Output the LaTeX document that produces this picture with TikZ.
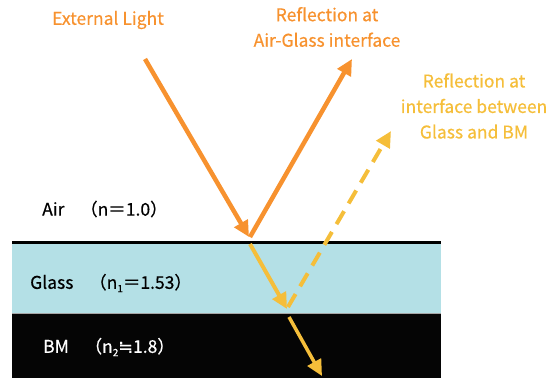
\documentclass[tikz,border=0pt]{standalone}
\usepackage{fontspec}
\setmainfont{Noto Sans CJK JP}[FakeBold=0.5]
\newfontfamily\symfont{DejaVu Sans}[FakeBold=0.5]
\usetikzlibrary{arrows.meta}
\definecolor{lorange}{HTML}{F7922F}
\definecolor{lyellow}{HTML}{F5BE3A}
\definecolor{glassc}{HTML}{B4E0E6}
\tikzset{
  lbl/.style={inner sep=0pt, font=\fontsize{17.5}{25.5}\selectfont},
  ray/.style={line width=4.5pt, -{Triangle[length=16pt,width=15pt]}},
  dray/.style={ray, dash pattern=on 15pt off 9pt},
}
\newcommand{\subn}[1]{\raisebox{-0.35ex}{\fontsize{10}{10}\selectfont #1}}
\begin{document}
\begin{tikzpicture}[x=1pt,y=-1pt]
\useasboundingbox (0,0) rectangle (558,378);
% layers
\fill[glassc] (12,243) rectangle (441,313);
\fill[black!98] (12,313) rectangle (441,378);
\draw[gray!70, line width=0.8pt] (12,313) -- (441,313);
\draw[black, line width=3pt] (12,242) -- (441,242);
% coordinates
\coordinate (src) at (145,59);
\coordinate (hit) at (249,237);
\coordinate (hit2) at (250,237);
\coordinate (refl) at (352,59);
\coordinate (g1) at (250,244);
\coordinate (g2) at (287,309);
\coordinate (d1) at (288,307);
\coordinate (d2) at (391,131);
\coordinate (b1) at (289,317);
\coordinate (b2) at (322,376);
% rays
\draw[ray, lorange] (src) -- (hit);
\draw[ray, lorange] (hit2) -- (refl);
\draw[ray, lyellow, line width=4pt] (g1) -- (g2);
\draw[dray, lyellow, line width=4pt] (d1) -- (d2);
\draw[ray, lyellow, line width=3.5pt] (b1) -- (b2);
% labels
\node[lbl, text=lorange] (ext) at (108,20) {External Light};
\node[lbl, text=lorange, align=center] (r1) at (327,27) {Reflection at\\Air-Glass interface};
\node[lbl, text=lyellow, align=center] (r2) at (474,106) {Reflection at\\interface between\\Glass and BM};
\node[lbl, anchor=west] (air) at (42,209) {Air\hspace{0.9em}（n＝1.0）};
\node[lbl, anchor=west] (glass) at (30,283) {Glass\hspace{0.9em}（n\subn{1}＝1.53）};
\node[lbl, anchor=west, text=white] (bm) at (43,347) {BM\hspace{0.9em}（n\subn{2}{\symfont ≒}1.8）};
\end{tikzpicture}
\end{document}
